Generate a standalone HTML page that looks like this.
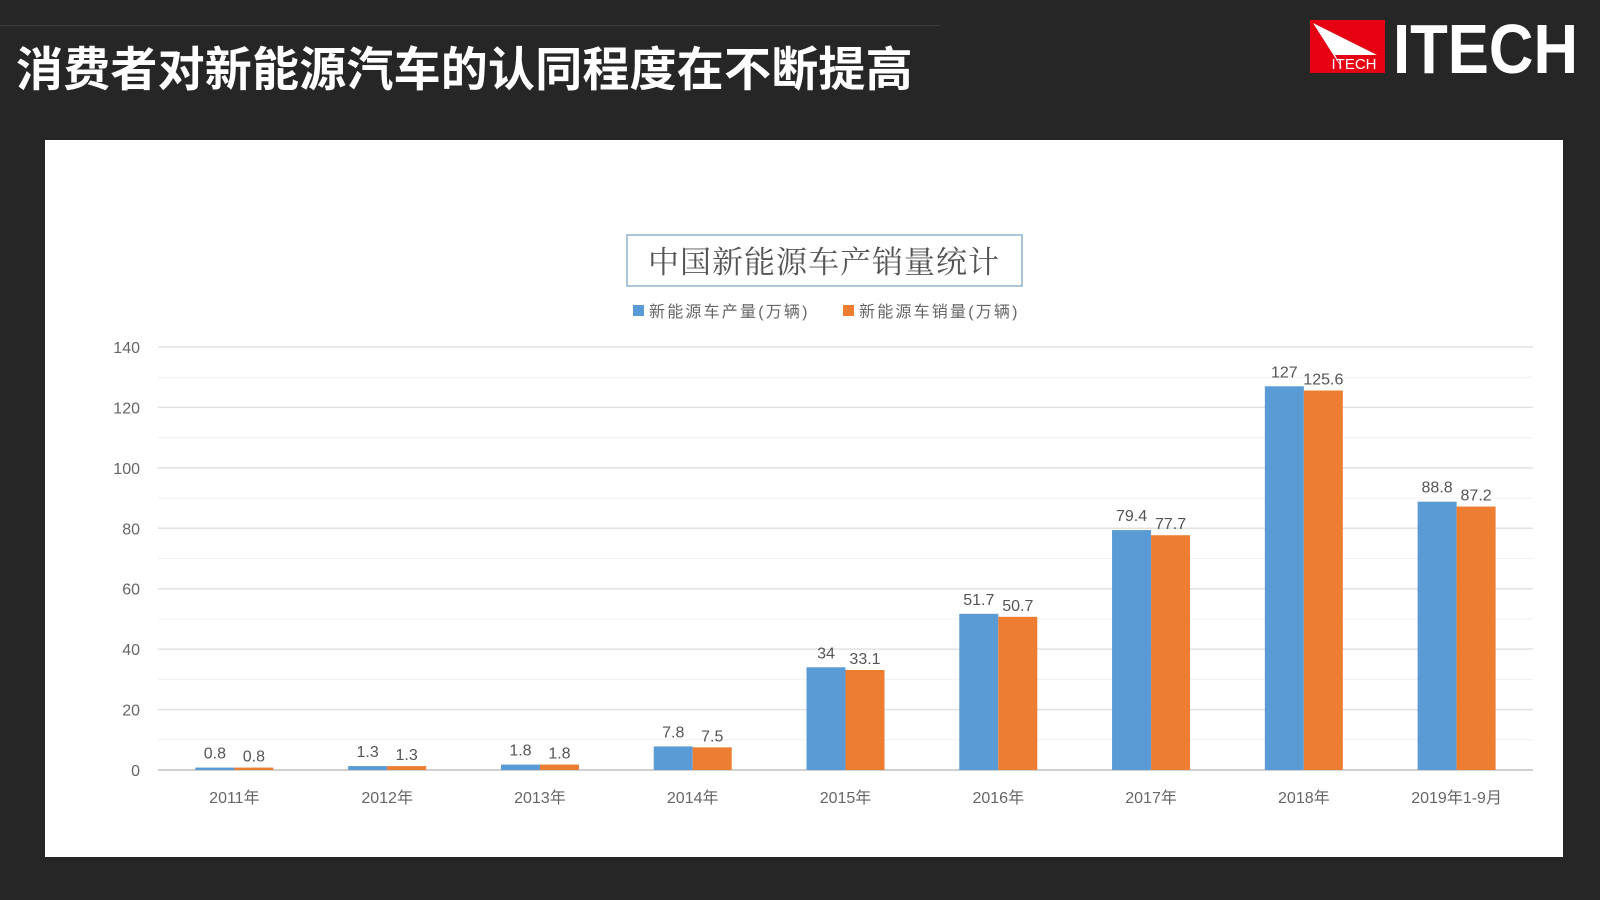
<!DOCTYPE html>
<html><head><meta charset="utf-8"><style>
body{margin:0;width:1600px;height:900px;background:#262626;overflow:hidden;font-family:"Liberation Sans","Noto Sans CJK SC",sans-serif;position:relative}
#title{position:absolute;left:16px;top:31px;font-size:47px;font-weight:bold;color:#fff;font-family:"Liberation Sans","Noto Sans CJK SC",sans-serif;letter-spacing:0.2px}
#line{position:absolute;left:0;top:25px;width:940px;height:1px;background:#3c3c3c}
#panel{position:absolute;left:45px;top:140px;width:1518px;height:717px;background:#fff}
</style></head><body>
<div id="line"></div>
<div id="title">消费者对新能源汽车的认同程度在不断提高</div>
<svg style="position:absolute;left:1305px;top:15px" width="285" height="65">
<rect x="5" y="5" width="75" height="53" fill="#e60012"/>
<polygon points="8,8 72,40 30,40 38,55" fill="#fff"/>
<text x="49" y="54" font-size="15" fill="#fff" font-family="Liberation Sans Narrow,Liberation Sans,sans-serif" text-anchor="middle">ITECH</text>
<text x="88" y="58" font-size="70" fill="#fff" font-weight="bold" font-family="Liberation Sans,sans-serif" textLength="185" lengthAdjust="spacingAndGlyphs">ITECH</text>
</svg>
<div id="panel"></div>
<svg id="chart" style="position:absolute;left:0;top:0" width="1600" height="900"></svg>
<script>
const categories=["2011年","2012年","2013年","2014年","2015年","2016年","2017年","2018年","2019年1-9月"];
const production=[0.8,1.3,1.8,7.8,34,51.7,79.4,127,88.8];
const sales=[0.8,1.3,1.8,7.5,33.1,50.7,77.7,125.6,87.2];
const yTicks=[0,20,40,60,80,100,120,140];
const seriesNames=["新能源车产量(万辆)","新能源车销量(万辆)"];
const NS="http://www.w3.org/2000/svg";
const svg=document.getElementById('chart');
const x0=158,x1=1533,y0=770,yTop=347,yMax=140;
const bw=(x1-x0)/categories.length;
function y(v){return y0-(v/yMax)*(y0-yTop);}
function xc(i){return x0+bw*(i+0.5);}
function mk(tag,attrs,txt){const e=document.createElementNS(NS,tag);for(const k in attrs)e.setAttribute(k,attrs[k]);if(txt!==undefined)e.textContent=txt;svg.appendChild(e);return e;}
const F='"Liberation Sans","Noto Sans CJK SC",sans-serif';
for(let v=10;v<=yMax;v+=20){const g=mk('line',{x1:x0,x2:x1,y1:y(v),y2:y(v),stroke:'#f0f0f0','stroke-width':1});

}
yTicks.forEach(v=>{const g=mk('line',{x1:x0,x2:x1,y1:y(v),y2:y(v),stroke:v===0?'#d0d0d0':'#e2e2e2','stroke-width':v===0?2:1.5});


const t=mk('text',{x:140,y:y(v)+6,'font-size':16,fill:'#666','text-anchor':'end','font-family':F},v);

});
categories.forEach((c,i)=>{
 const cx=xc(i),w=39;
 const b1=mk('rect',{x:cx-w,y:y(production[i]),width:w,height:y0-y(production[i]),fill:'#5b9bd5'});
 
 
 const b2=mk('rect',{x:cx,y:y(sales[i]),width:w,height:y0-y(sales[i]),fill:'#ed7d31'});
 
 
 const l1=mk('text',{x:cx-w/2,y:y(production[i])-9,'font-size':16,fill:'#555','text-anchor':'middle','font-family':F},production[i]);
 
 
 const l2=mk('text',{x:cx+w/2,y:y(sales[i])-6,'font-size':16,fill:'#555','text-anchor':'middle','font-family':F},sales[i]);
 
 
 const xl=mk('text',{x:cx,y:803,'font-size':16,fill:'#666','text-anchor':'middle','font-family':F},c);
 
 
});
const tb=mk('rect',{x:627,y:235,width:395,height:51,fill:'#fff',stroke:'#8fb3cf','stroke-width':1.5});


const tt=mk('text',{x:824,y:273,'font-size':31,fill:'#555','text-anchor':'middle','letter-spacing':'1','font-family':'"Noto Serif CJK SC","Noto Sans CJK SC",serif'},'中国新能源车产销量统计');


[[633,'#5b9bd5',seriesNames[0]],[843,'#ed7d31',seriesNames[1]]].forEach(([lx,col,n])=>{
 const s=mk('rect',{x:lx,y:305,width:11,height:11,fill:col});
 
 
 const t=mk('text',{x:lx+16,y:317,'font-size':16,fill:'#666','letter-spacing':'2.2','font-family':F},n);
 
 
});
</script>
</body></html>
